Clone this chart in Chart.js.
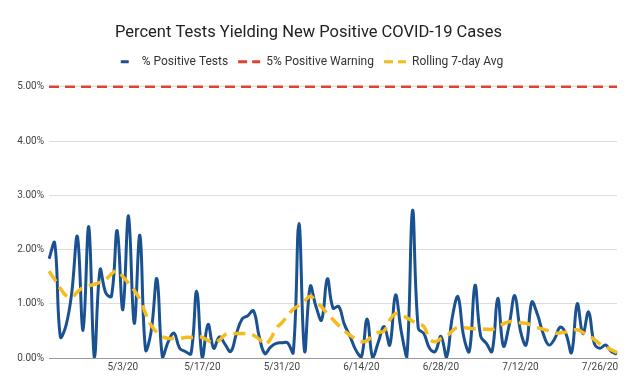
<!DOCTYPE html>
<html>
<head>
<meta charset="utf-8">
<title>Percent Tests Yielding New Positive COVID-19 Cases</title>
<script src="https://cdn.jsdelivr.net/npm/chart.js@4.4.0/dist/chart.umd.min.js"></script>
<style>
  html, body { margin: 0; padding: 0; background: #fff; }
  #wrap { width: 638px; height: 386px; }
</style>
</head>
<body>
<div id="wrap"><canvas id="myChart" width="638" height="386"></canvas></div>
<script>
// daily data, 4/20/20 .. 7/29/20
var startDay = new Date(2020, 3, 20);
var dayCount = 101;
var xTicks = ['5/3/20', '5/17/20', '5/31/20', '6/14/20', '6/28/20', '7/12/20', '7/26/20'];
var yTicks = [0, 1, 2, 3, 4, 5];

var pctPositive = [
  1.83, 2.12, 0.39, 0.60, 1.20, 2.24, 0.51, 2.42, 0.00, 1.63,
  1.20, 1.14, 2.35, 0.89, 2.62, 0.64, 2.26, 0.15, 0.50, 1.46,
  0.00, 0.30, 0.46, 0.18, 0.12, 0.08, 1.23, 0.00, 0.62, 0.18,
  0.39, 0.25, 0.12, 0.45, 0.72, 0.78, 0.87, 0.40, 0.08, 0.20,
  0.27, 0.28, 0.28, 0.10, 2.48, 0.12, 1.32, 0.95, 0.70, 1.46,
  0.92, 0.95, 0.62, 0.40, 0.15, 0.02, 0.72, 0.00, 0.30, 0.58,
  0.24, 1.16, 0.50, 0.02, 2.72, 0.55, 0.45, 0.18, 0.12, 0.40,
  0.02, 0.75, 1.13, 0.40, 0.12, 1.34, 0.40, 0.27, 0.12, 1.10,
  0.22, 0.60, 1.15, 0.50, 0.24, 1.03, 0.80, 0.45, 0.24, 0.35,
  0.57, 0.45, 0.10, 1.00, 0.45, 0.85, 0.27, 0.18, 0.24, 0.12,
  0.07
];

var rollingAvg = [
  1.60, 1.45, 1.28, 1.15, 1.12, 1.22, 1.30, 1.33, 1.36, 1.40,
  1.45, 1.55, 1.61, 1.50, 1.38, 1.25, 1.08, 0.82, 0.60, 0.47,
  0.39, 0.36, 0.36, 0.36, 0.38, 0.38, 0.39, 0.38, 0.32, 0.28,
  0.33, 0.43, 0.45, 0.45, 0.45, 0.45, 0.42, 0.35, 0.25, 0.35,
  0.55, 0.65, 0.78, 0.90, 0.97, 1.05, 1.14, 1.05, 0.94, 0.82,
  0.71, 0.60, 0.50, 0.42, 0.35, 0.30, 0.32, 0.42, 0.47, 0.50,
  0.70, 0.82, 0.80, 0.74, 0.68, 0.63, 0.58, 0.35, 0.30, 0.36,
  0.40, 0.50, 0.57, 0.56, 0.55, 0.54, 0.54, 0.53, 0.53, 0.57,
  0.63, 0.67, 0.67, 0.65, 0.64, 0.60, 0.56, 0.53, 0.50, 0.46,
  0.46, 0.48, 0.51, 0.52, 0.47, 0.42, 0.34, 0.26, 0.21, 0.15,
  0.10
];

var warningLevel = 5;

var labels = [];
for (var i = 0; i < dayCount; i++) {
  var d = new Date(startDay.getTime());
  d.setDate(startDay.getDate() + i);
  labels.push((d.getMonth() + 1) + '/' + d.getDate() + '/20');
}
var warning = labels.map(function () { return warningLevel; });

// extra space under the legend
var legendGap = {
  id: 'legendGap',
  beforeInit: function (chart) {
    var fit = chart.legend.fit;
    chart.legend.fit = function () {
      fit.bind(chart.legend)();
      this.height += 9;
    };
  }
};

var ctx = document.getElementById('myChart').getContext('2d');
var chart = new Chart(ctx, {
  type: 'line',
  data: {
    labels: labels,
    datasets: [{
      label: '% Positive Tests',
      data: pctPositive,
      borderColor: '#1a5191',
      backgroundColor: '#1a5191',
      borderWidth: 3,
      tension: 0.4,
      pointRadius: 0,
      order: 1
    }, {
      label: '5% Positive Warning',
      data: warning,
      borderColor: '#e3412f',
      backgroundColor: '#e3412f',
      borderWidth: 2.5,
      borderDash: [10, 6],
      pointRadius: 0,
      clip: false,
      order: 2
    }, {
      label: 'Rolling 7-day Avg',
      data: rollingAvg,
      borderColor: '#f6bc1c',
      backgroundColor: '#f6bc1c',
      borderWidth: 3.5,
      borderDash: [12, 7],
      tension: 0.4,
      pointRadius: 0,
      order: 0
    }]
  },
  plugins: [legendGap],
  options: {
    responsive: false,
    animation: false,
    layout: { padding: { top: 0, right: 21, bottom: 0, left: 0 } },
    plugins: {
      title: {
        display: true,
        text: 'Percent Tests Yielding New Positive COVID-19 Cases',
        color: '#222',
        font: { family: 'Roboto', size: 16.5, weight: 'normal' },
        padding: { top: 23, bottom: 3 }
      },
      legend: {
        labels: {
          color: '#333',
          font: { family: 'Roboto', size: 12 },
          usePointStyle: true,
          pointStyle: 'line',
          pointStyleWidth: 22,
          boxHeight: 8,
          padding: 10,
          sort: function (a, b) { return a.datasetIndex - b.datasetIndex; },
          generateLabels: function (chart) {
            var items = Chart.defaults.plugins.legend.labels.generateLabels(chart);
            items.forEach(function (it) {
              it.lineWidth = 3;
              if (it.datasetIndex === 0) {
                it.lineDash = [8, 20];
                it.lineDashOffset = -7;
              } else {
                it.lineDash = [9, 5];
                it.lineDashOffset = 0;
              }
            });
            return items;
          }
        }
      },
      tooltip: { enabled: false }
    },
    scales: {
      x: {
        grid: { display: false, drawTicks: false },
        border: { color: '#999' },
        ticks: {
          autoSkip: false,
          maxRotation: 0,
          color: '#444',
          font: { family: 'Roboto', size: 10 },
          padding: 3,
          callback: function (v, i) {
            var l = labels[i];
            return xTicks.indexOf(l) >= 0 ? l : '';
          }
        },
        afterFit: function (s) { s.height = 28; }
      },
      y: {
        min: 0,
        max: 5,
        afterBuildTicks: function (s) {
          s.ticks = yTicks.map(function (v) { return { value: v }; });
        },
        grid: {
          color: function (c) { return c.tick && c.tick.value === 0 ? '#999' : '#dddddd'; },
          drawTicks: false
        },
        border: { display: false },
        ticks: {
          color: '#444',
          font: { family: 'Roboto', size: 10 },
          padding: 5,
          callback: function (v) { return v.toFixed(2) + '%'; }
        },
        afterFit: function (s) { s.width = 49; }
      }
    }
  }
});
</script>
</body>
</html>
